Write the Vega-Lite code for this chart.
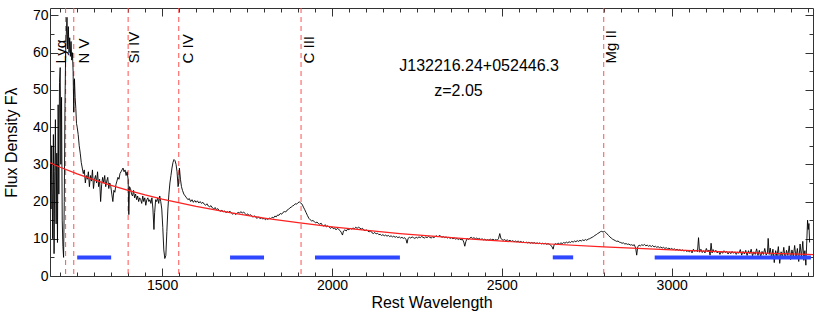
{
  "$schema": "https://vega.github.io/schema/vega-lite/v6.json",
  "width": 763,
  "height": 268,
  "autosize": "none",
  "padding": {"left": 50, "top": 8, "right": 17, "bottom": 45},
  "config": {
    "font": "Liberation Sans",
    "view": {"stroke": "#333333", "strokeWidth": 1}
  },
  "datasets": {
    "spec": [
      {"w":1171,"f":30},{"w":1173,"f":18},{"w":1175,"f":35},{"w":1176,"f":26},{"w":1178,"f":10},{"w":1180,"f":38},{"w":1182,"f":6},{"w":1184,"f":28},{"w":1186,"f":42},{"w":1188,"f":14},{"w":1190,"f":33},{"w":1192,"f":9},{"w":1194,"f":46},{"w":1196,"f":22},{"w":1198,"f":52},{"w":1200,"f":56},{"w":1202,"f":30},{"w":1204,"f":48},{"w":1206,"f":15},{"w":1208,"f":8},{"w":1210,"f":5},{"w":1212,"f":20},{"w":1214,"f":45},{"w":1216,"f":60},{"w":1218,"f":65},{"w":1220,"f":69.5},{"w":1222,"f":61},{"w":1224,"f":67},{"w":1226,"f":60},{"w":1228,"f":64},{"w":1230,"f":59},{"w":1232,"f":63},{"w":1234,"f":58},{"w":1236,"f":60},{"w":1238,"f":55},{"w":1240,"f":44},{"w":1242,"f":53},{"w":1244,"f":48},{"w":1246,"f":45},{"w":1248,"f":41},{"w":1250,"f":40},{"w":1253,"f":38},{"w":1256,"f":35},{"w":1259,"f":33},{"w":1262,"f":30.5},{"w":1265,"f":29},{"w":1268,"f":27.5},{"w":1271,"f":28.5},{"w":1274,"f":25},{"w":1277,"f":27},{"w":1280,"f":26},{"w":1283,"f":28},{"w":1286,"f":24},{"w":1289,"f":27},{"w":1292,"f":25.5},{"w":1295,"f":28.5},{"w":1298,"f":23.5},{"w":1301,"f":26},{"w":1304,"f":27},{"w":1307,"f":25},{"w":1310,"f":28},{"w":1313,"f":24},{"w":1316,"f":26},{"w":1319,"f":20},{"w":1322,"f":24.5},{"w":1325,"f":26.5},{"w":1328,"f":25},{"w":1331,"f":27},{"w":1334,"f":24},{"w":1337,"f":25.5},{"w":1340,"f":26.5},{"w":1343,"f":23.5},{"w":1346,"f":25},{"w":1349,"f":24},{"w":1352,"f":22},{"w":1355,"f":20},{"w":1358,"f":23},{"w":1361,"f":22.5},{"w":1364,"f":24.5},{"w":1367,"f":25.5},{"w":1370,"f":26.5},{"w":1373,"f":26},{"w":1376,"f":27.5},{"w":1379,"f":28},{"w":1382,"f":28.5},{"w":1385,"f":29},{"w":1388,"f":28},{"w":1391,"f":28.5},{"w":1394,"f":27},{"w":1397,"f":28},{"w":1400,"f":26},{"w":1402,"f":16.5},{"w":1404,"f":24},{"w":1407,"f":23.5},{"w":1410,"f":22},{"w":1413,"f":21.5},{"w":1416,"f":23},{"w":1419,"f":21},{"w":1422,"f":22},{"w":1425,"f":20.5},{"w":1428,"f":21.5},{"w":1431,"f":20},{"w":1434,"f":21},{"w":1437,"f":20.5},{"w":1440,"f":19.5},{"w":1443,"f":21.5},{"w":1446,"f":20},{"w":1449,"f":21},{"w":1452,"f":19},{"w":1455,"f":20.5},{"w":1458,"f":21},{"w":1461,"f":20},{"w":1464,"f":20.5},{"w":1467,"f":19.5},{"w":1470,"f":21},{"w":1473,"f":18},{"w":1476,"f":12.5},{"w":1478,"f":17},{"w":1481,"f":20.5},{"w":1484,"f":20},{"w":1487,"f":21},{"w":1490,"f":19.5},{"w":1493,"f":21.5},{"w":1496,"f":20},{"w":1499,"f":18},{"w":1502,"f":13},{"w":1505,"f":7},{"w":1508,"f":4.7},{"w":1511,"f":5.5},{"w":1514,"f":12},{"w":1517,"f":18},{"w":1520,"f":22},{"w":1523,"f":25},{"w":1526,"f":27},{"w":1529,"f":29},{"w":1532,"f":30.5},{"w":1535,"f":31.3},{"w":1538,"f":31},{"w":1541,"f":30},{"w":1544,"f":28},{"w":1547,"f":24},{"w":1549,"f":25},{"w":1551,"f":29},{"w":1554,"f":26},{"w":1557,"f":24},{"w":1560,"f":23},{"w":1564,"f":22},{"w":1568,"f":21.5},{"w":1572,"f":21},{"w":1576,"f":20.5},{"w":1580,"f":20.8},{"w":1584,"f":20},{"w":1588,"f":20.5},{"w":1592,"f":19.8},{"w":1596,"f":20.3},{"w":1600,"f":19.8},{"w":1604,"f":20.2},{"w":1608,"f":19.6},{"w":1612,"f":20},{"w":1616,"f":19.5},{"w":1620,"f":19.8},{"w":1624,"f":19.3},{"w":1628,"f":19},{"w":1632,"f":19.4},{"w":1636,"f":18.8},{"w":1640,"f":18.6},{"w":1644,"f":18.9},{"w":1648,"f":18.3},{"w":1652,"f":18},{"w":1656,"f":18.4},{"w":1660,"f":17.8},{"w":1664,"f":18.1},{"w":1668,"f":17.6},{"w":1672,"f":17.4},{"w":1676,"f":17.7},{"w":1680,"f":17.2},{"w":1684,"f":17.5},{"w":1688,"f":17},{"w":1692,"f":17.3},{"w":1696,"f":17.1},{"w":1700,"f":17.4},{"w":1704,"f":16.9},{"w":1708,"f":16.6},{"w":1712,"f":16.9},{"w":1716,"f":16.5},{"w":1720,"f":16.8},{"w":1724,"f":17.1},{"w":1728,"f":16.9},{"w":1732,"f":17.3},{"w":1736,"f":16.9},{"w":1740,"f":17.2},{"w":1744,"f":16.8},{"w":1748,"f":16.4},{"w":1752,"f":16.7},{"w":1756,"f":16.2},{"w":1760,"f":16.5},{"w":1764,"f":16.1},{"w":1768,"f":15.8},{"w":1772,"f":16.2},{"w":1776,"f":15.7},{"w":1780,"f":15.5},{"w":1784,"f":15.9},{"w":1788,"f":15.4},{"w":1792,"f":15.7},{"w":1796,"f":15.3},{"w":1800,"f":15.5},{"w":1804,"f":15.1},{"w":1808,"f":15.4},{"w":1812,"f":15.2},{"w":1816,"f":15.6},{"w":1820,"f":15.4},{"w":1824,"f":15.8},{"w":1828,"f":15.6},{"w":1832,"f":16.1},{"w":1836,"f":15.9},{"w":1840,"f":16.4},{"w":1844,"f":16.3},{"w":1848,"f":16.8},{"w":1852,"f":16.6},{"w":1856,"f":17.1},{"w":1860,"f":17.3},{"w":1864,"f":17.2},{"w":1868,"f":17.7},{"w":1872,"f":17.9},{"w":1876,"f":18.3},{"w":1880,"f":18.5},{"w":1884,"f":18.8},{"w":1888,"f":19},{"w":1892,"f":19.4},{"w":1896,"f":19.3},{"w":1900,"f":19.7},{"w":1904,"f":19.9},{"w":1908,"f":19.6},{"w":1912,"f":19.3},{"w":1916,"f":18.5},{"w":1920,"f":17.8},{"w":1924,"f":17},{"w":1928,"f":16.2},{"w":1932,"f":15.5},{"w":1936,"f":15.1},{"w":1940,"f":14.8},{"w":1944,"f":14.9},{"w":1948,"f":14.6},{"w":1952,"f":14.3},{"w":1956,"f":14.5},{"w":1960,"f":14.1},{"w":1964,"f":13.9},{"w":1968,"f":14.2},{"w":1972,"f":13.6},{"w":1976,"f":13.4},{"w":1980,"f":13.8},{"w":1984,"f":13.2},{"w":1988,"f":13.5},{"w":1992,"f":13.1},{"w":1996,"f":12.8},{"w":2000,"f":13.2},{"w":2004,"f":12.7},{"w":2008,"f":12.9},{"w":2012,"f":12.4},{"w":2016,"f":12.8},{"w":2020,"f":12.5},{"w":2024,"f":12.2},{"w":2028,"f":11.6},{"w":2031,"f":11},{"w":2034,"f":12.1},{"w":2038,"f":12.4},{"w":2042,"f":12.1},{"w":2046,"f":12.6},{"w":2050,"f":12.4},{"w":2054,"f":12.8},{"w":2058,"f":12.6},{"w":2062,"f":12.9},{"w":2066,"f":12.7},{"w":2070,"f":13.1},{"w":2074,"f":12.8},{"w":2078,"f":13.1},{"w":2082,"f":12.9},{"w":2086,"f":12.6},{"w":2090,"f":12.8},{"w":2094,"f":12.3},{"w":2098,"f":12.2},{"w":2102,"f":12.4},{"w":2106,"f":12},{"w":2110,"f":11.9},{"w":2114,"f":12.1},{"w":2118,"f":11.6},{"w":2122,"f":11.4},{"w":2126,"f":11.7},{"w":2130,"f":11.3},{"w":2134,"f":11.5},{"w":2138,"f":11.1},{"w":2142,"f":11.2},{"w":2146,"f":10.9},{"w":2150,"f":11.1},{"w":2154,"f":10.8},{"w":2158,"f":11},{"w":2162,"f":10.7},{"w":2166,"f":10.9},{"w":2170,"f":10.6},{"w":2174,"f":10.8},{"w":2178,"f":10.5},{"w":2182,"f":10.7},{"w":2186,"f":10.4},{"w":2190,"f":10.6},{"w":2194,"f":10.3},{"w":2198,"f":10.5},{"w":2202,"f":10.2},{"w":2206,"f":10.4},{"w":2210,"f":10.1},{"w":2214,"f":10.3},{"w":2218,"f":9.8},{"w":2221,"f":8.8},{"w":2224,"f":10.1},{"w":2228,"f":10.4},{"w":2232,"f":10.2},{"w":2236,"f":10.5},{"w":2240,"f":10.3},{"w":2244,"f":10.1},{"w":2248,"f":10.4},{"w":2252,"f":10.2},{"w":2256,"f":10.5},{"w":2260,"f":10.3},{"w":2264,"f":10.6},{"w":2268,"f":10.4},{"w":2272,"f":10.2},{"w":2276,"f":10.5},{"w":2280,"f":10.3},{"w":2284,"f":10.6},{"w":2288,"f":10.4},{"w":2292,"f":10.2},{"w":2296,"f":10.5},{"w":2300,"f":10.3},{"w":2304,"f":10.6},{"w":2308,"f":10.8},{"w":2312,"f":10.5},{"w":2316,"f":10.9},{"w":2320,"f":10.7},{"w":2324,"f":10.4},{"w":2328,"f":10.6},{"w":2332,"f":10.3},{"w":2336,"f":10.5},{"w":2340,"f":10.2},{"w":2344,"f":10.4},{"w":2348,"f":10.1},{"w":2352,"f":10.3},{"w":2356,"f":10},{"w":2360,"f":10.2},{"w":2364,"f":9.9},{"w":2368,"f":10.1},{"w":2372,"f":9.8},{"w":2376,"f":10},{"w":2380,"f":9.7},{"w":2384,"f":9.9},{"w":2388,"f":9.1},{"w":2391,"f":8},{"w":2394,"f":9.2},{"w":2398,"f":10.1},{"w":2402,"f":9.8},{"w":2406,"f":10.2},{"w":2410,"f":10.4},{"w":2414,"f":10.1},{"w":2418,"f":10.3},{"w":2422,"f":10},{"w":2426,"f":10.2},{"w":2430,"f":9.9},{"w":2434,"f":10.1},{"w":2438,"f":9.8},{"w":2442,"f":10},{"w":2446,"f":9.7},{"w":2450,"f":9.9},{"w":2454,"f":9.6},{"w":2458,"f":9.8},{"w":2462,"f":9.6},{"w":2466,"f":9.9},{"w":2470,"f":9.7},{"w":2474,"f":9.9},{"w":2478,"f":9.6},{"w":2482,"f":9.8},{"w":2486,"f":9.6},{"w":2490,"f":10},{"w":2494,"f":11.4},{"w":2497,"f":10.2},{"w":2500,"f":9.8},{"w":2504,"f":9.6},{"w":2508,"f":9.8},{"w":2512,"f":9.5},{"w":2516,"f":9.7},{"w":2520,"f":9.4},{"w":2524,"f":9.6},{"w":2528,"f":9.3},{"w":2532,"f":9.5},{"w":2536,"f":9.2},{"w":2540,"f":9.4},{"w":2544,"f":9.2},{"w":2548,"f":9.4},{"w":2552,"f":9.1},{"w":2556,"f":9.3},{"w":2560,"f":9},{"w":2564,"f":9.2},{"w":2568,"f":8.9},{"w":2572,"f":9.1},{"w":2576,"f":8.9},{"w":2580,"f":9.1},{"w":2584,"f":8.8},{"w":2588,"f":9},{"w":2592,"f":8.8},{"w":2596,"f":9},{"w":2600,"f":8.7},{"w":2604,"f":8.9},{"w":2608,"f":8.7},{"w":2612,"f":8.9},{"w":2616,"f":8.6},{"w":2620,"f":8.8},{"w":2624,"f":8.6},{"w":2628,"f":8.8},{"w":2632,"f":8.5},{"w":2636,"f":8.7},{"w":2640,"f":8.5},{"w":2644,"f":8.3},{"w":2648,"f":7.8},{"w":2651,"f":7.2},{"w":2654,"f":8.4},{"w":2658,"f":8.7},{"w":2662,"f":8.5},{"w":2666,"f":8.8},{"w":2670,"f":8.6},{"w":2674,"f":8.9},{"w":2678,"f":8.7},{"w":2682,"f":9},{"w":2686,"f":8.8},{"w":2690,"f":9.1},{"w":2694,"f":8.9},{"w":2698,"f":9.2},{"w":2702,"f":9},{"w":2706,"f":9.3},{"w":2710,"f":9.1},{"w":2714,"f":9.4},{"w":2718,"f":9.2},{"w":2722,"f":9.5},{"w":2726,"f":9.3},{"w":2730,"f":9.6},{"w":2734,"f":9.4},{"w":2738,"f":9.7},{"w":2742,"f":9.5},{"w":2746,"f":9.8},{"w":2750,"f":9.6},{"w":2754,"f":9.9},{"w":2758,"f":10},{"w":2762,"f":10.2},{"w":2766,"f":10.4},{"w":2770,"f":10.6},{"w":2774,"f":10.9},{"w":2778,"f":11.1},{"w":2782,"f":11.4},{"w":2786,"f":11.6},{"w":2790,"f":11.9},{"w":2794,"f":12},{"w":2798,"f":11.8},{"w":2802,"f":12},{"w":2806,"f":11.7},{"w":2810,"f":11.3},{"w":2814,"f":10.9},{"w":2818,"f":10.5},{"w":2822,"f":10.2},{"w":2826,"f":9.9},{"w":2830,"f":9.7},{"w":2834,"f":9.5},{"w":2838,"f":9.3},{"w":2842,"f":9.4},{"w":2846,"f":9.1},{"w":2850,"f":9},{"w":2854,"f":8.8},{"w":2858,"f":8.9},{"w":2862,"f":8.6},{"w":2866,"f":8.7},{"w":2870,"f":8.5},{"w":2874,"f":8.6},{"w":2878,"f":8.3},{"w":2882,"f":8.4},{"w":2886,"f":8.2},{"w":2890,"f":8.4},{"w":2894,"f":7.5},{"w":2897,"f":5.6},{"w":2900,"f":7.8},{"w":2904,"f":8.3},{"w":2908,"f":8.1},{"w":2912,"f":8.4},{"w":2916,"f":8.2},{"w":2920,"f":8.5},{"w":2924,"f":8.1},{"w":2928,"f":8.3},{"w":2932,"f":8},{"w":2936,"f":8.2},{"w":2940,"f":7.9},{"w":2944,"f":8.2},{"w":2948,"f":7.8},{"w":2952,"f":8},{"w":2956,"f":7.7},{"w":2960,"f":7.9},{"w":2964,"f":7.6},{"w":2968,"f":7.8},{"w":2972,"f":7.5},{"w":2976,"f":7.7},{"w":2980,"f":7.4},{"w":2984,"f":7.6},{"w":2988,"f":7.3},{"w":2992,"f":7.5},{"w":2996,"f":7.2},{"w":3000,"f":7.4},{"w":3004,"f":7.1},{"w":3008,"f":7.3},{"w":3012,"f":7},{"w":3016,"f":7.2},{"w":3020,"f":6.9},{"w":3024,"f":7.1},{"w":3028,"f":6.8},{"w":3032,"f":7},{"w":3036,"f":6.7},{"w":3040,"f":6.9},{"w":3044,"f":6.6},{"w":3048,"f":6.8},{"w":3052,"f":6.5},{"w":3056,"f":6.9},{"w":3060,"f":6.2},{"w":3064,"f":7.2},{"w":3068,"f":6.6},{"w":3072,"f":7},{"w":3076,"f":6.5},{"w":3079,"f":10.3},{"w":3082,"f":6.4},{"w":3086,"f":7.2},{"w":3090,"f":6.3},{"w":3094,"f":6.8},{"w":3098,"f":6.2},{"w":3102,"f":7.4},{"w":3106,"f":6.5},{"w":3110,"f":7},{"w":3113,"f":5.6},{"w":3116,"f":8.8},{"w":3119,"f":6.2},{"w":3122,"f":7.1},{"w":3126,"f":6.4},{"w":3130,"f":6.9},{"w":3134,"f":6.2},{"w":3138,"f":6.7},{"w":3142,"f":5.8},{"w":3146,"f":6.6},{"w":3150,"f":6.1},{"w":3154,"f":6.8},{"w":3158,"f":6.3},{"w":3162,"f":6.6},{"w":3166,"f":5.9},{"w":3170,"f":6.5},{"w":3174,"f":6},{"w":3178,"f":6.6},{"w":3182,"f":6.1},{"w":3186,"f":6.5},{"w":3190,"f":5.8},{"w":3194,"f":6.4},{"w":3198,"f":6.1},{"w":3202,"f":7.1},{"w":3206,"f":5.6},{"w":3210,"f":6.6},{"w":3214,"f":5.9},{"w":3218,"f":6.9},{"w":3222,"f":5.5},{"w":3226,"f":6.8},{"w":3230,"f":6},{"w":3234,"f":7.2},{"w":3238,"f":5.4},{"w":3242,"f":6.5},{"w":3246,"f":5.8},{"w":3250,"f":7.3},{"w":3254,"f":5.5},{"w":3258,"f":6.9},{"w":3262,"f":5.2},{"w":3266,"f":6.6},{"w":3270,"f":5.8},{"w":3274,"f":7.4},{"w":3278,"f":5.6},{"w":3282,"f":6.2},{"w":3284,"f":10.1},{"w":3287,"f":5.8},{"w":3290,"f":7.5},{"w":3294,"f":4.9},{"w":3298,"f":7.2},{"w":3302,"f":3.6},{"w":3306,"f":6.8},{"w":3310,"f":5.3},{"w":3314,"f":7.9},{"w":3318,"f":3.4},{"w":3322,"f":6.5},{"w":3326,"f":5.1},{"w":3330,"f":7.7},{"w":3334,"f":4.6},{"w":3338,"f":6.9},{"w":3342,"f":5.5},{"w":3346,"f":8.1},{"w":3350,"f":4.4},{"w":3354,"f":7},{"w":3358,"f":5.2},{"w":3362,"f":8.2},{"w":3366,"f":4.8},{"w":3370,"f":7.4},{"w":3374,"f":3.9},{"w":3378,"f":8.6},{"w":3382,"f":5},{"w":3386,"f":9.3},{"w":3389,"f":4.2},{"w":3392,"f":6.8},{"w":3395,"f":2.9},{"w":3398,"f":10},{"w":3400,"f":15},{"w":3402,"f":12.5},{"w":3404,"f":14.1},{"w":3406,"f":9}
    ],
    "cont": [
      {"w":1170,"f":30.4},{"w":1200,"f":29.23},{"w":1250,"f":27.43},{"w":1300,"f":25.81},{"w":1350,"f":24.34},{"w":1400,"f":23.01},{"w":1450,"f":21.78},{"w":1500,"f":20.67},{"w":1600,"f":18.7},{"w":1700,"f":17.02},{"w":1800,"f":15.57},{"w":1900,"f":14.32},{"w":2000,"f":13.22},{"w":2200,"f":11.4},{"w":2400,"f":9.96},{"w":2600,"f":8.8},{"w":2800,"f":7.84},{"w":3000,"f":7.04},{"w":3200,"f":6.37},{"w":3400,"f":5.8},{"w":3416,"f":5.76}
    ],
    "lines": [
      {"name":"Lyα","w":1216,"lw":1181,"lf":57.1},
      {"name":"N V","w":1240,"lw":1249,"lf":57.1},
      {"name":"Si IV","w":1400,"lw":1398,"lf":57.1},
      {"name":"C IV","w":1549,"lw":1555,"lf":57.1},
      {"name":"C III","w":1909,"lw":1913,"lf":57.1},
      {"name":"Mg II","w":2800,"lw":2802,"lf":57.1}
    ],
    "bands": [
      {"w1":1250,"w2":1350,"f":5},
      {"w1":1700,"w2":1800,"f":5},
      {"w1":1950,"w2":2200,"f":5},
      {"w1":2650,"w2":2710,"f":5},
      {"w1":2950,"w2":3410,"f":5}
    ],
    "notes": [
      {"text":"J132216.24+052446.3","w":2198,"f":55.1},
      {"text":"z=2.05","w":2301,"f":48.3}
    ]
  },
  "layer": [
    {
      "data": {"name": "lines"},
      "mark": {"type": "rule", "color": "#ff5050", "strokeWidth": 1, "strokeDash": [5, 4]},
      "encoding": {
        "x": {"field": "w", "type": "quantitative", "scale": {"domain": [1170, 3416], "nice": false, "zero": false}, "axis": null}
      }
    },
    {
      "data": {"name": "spec"},
      "mark": {"type": "line", "color": "black", "strokeWidth": 0.9, "clip": true},
      "encoding": {
        "x": {"field": "w", "type": "quantitative", "scale": {"domain": [1170, 3416], "nice": false, "zero": false},
          "axis": {
            "orient": "bottom",
            "values": [1200,1250,1300,1350,1400,1450,1500,1550,1600,1650,1700,1750,1800,1850,1900,1950,2000,2050,2100,2150,2200,2250,2300,2350,2400,2450,2500,2550,2600,2650,2700,2750,2800,2850,2900,2950,3000,3050,3100,3150,3200,3250,3300,3350,3400],
            "labelExpr": "datum.value % 500 === 0 ? format(datum.value, 'd') : ''",
            "tickSize": {"condition": {"test": "datum.value % 500 === 0", "value": -8}, "value": -4},
            "tickColor": "#333333",
            "domain": false,
            "grid": false,
            "labelFontSize": 14,
            "labelColor": "black",
            "labelPadding": 10,
            "labelOverlap": false,
            "title": "Rest Wavelength",
            "titleFontSize": 16,
            "titleFontWeight": "normal",
            "titleColor": "black",
            "titleBaseline": "top",
            "titleY": 18
          }
        },
        "y": {"field": "f", "type": "quantitative", "scale": {"domain": [0, 72], "nice": false, "zero": false},
          "axis": {
            "orient": "left",
            "values": [0,5,10,15,20,25,30,35,40,45,50,55,60,65,70],
            "labelExpr": "datum.value % 10 === 0 ? format(datum.value, 'd') : ''",
            "tickSize": {"condition": {"test": "datum.value % 10 === 0", "value": -8}, "value": -4},
            "tickColor": "#333333",
            "domain": false,
            "grid": false,
            "labelFontSize": 14,
            "labelColor": "black",
            "labelPadding": 10,
            "labelOverlap": false,
            "title": "Flux Density  Fλ",
            "titleFontSize": 16,
            "titleFontWeight": "normal",
            "titleColor": "black",
            "titleBaseline": "top",
            "titleX": -47,
            "titleY": 134
          }
        }
      }
    },
    {
      "data": {"name": "cont"},
      "mark": {"type": "line", "color": "#ff2020", "strokeWidth": 1.2, "clip": true},
      "encoding": {
        "x": {"field": "w", "type": "quantitative", "scale": {"domain": [1170, 3416], "nice": false, "zero": false},
          "axis": {
            "orient": "top",
            "values": [1200,1250,1300,1350,1400,1450,1500,1550,1600,1650,1700,1750,1800,1850,1900,1950,2000,2050,2100,2150,2200,2250,2300,2350,2400,2450,2500,2550,2600,2650,2700,2750,2800,2850,2900,2950,3000,3050,3100,3150,3200,3250,3300,3350,3400],
            "labels": false,
            "tickSize": {"condition": {"test": "datum.value % 500 === 0", "value": -8}, "value": -4},
            "tickColor": "#333333",
            "domain": false,
            "grid": false,
            "title": null
          }
        },
        "y": {"field": "f", "type": "quantitative", "scale": {"domain": [0, 72], "nice": false, "zero": false},
          "axis": {
            "orient": "right",
            "values": [0,5,10,15,20,25,30,35,40,45,50,55,60,65,70],
            "labels": false,
            "tickSize": {"condition": {"test": "datum.value % 10 === 0", "value": -8}, "value": -4},
            "tickColor": "#333333",
            "domain": false,
            "grid": false,
            "title": null
          }
        }
      }
    },
    {
      "data": {"name": "bands"},
      "mark": {"type": "rule", "color": "#2f48ff", "strokeWidth": 4},
      "encoding": {
        "x": {"field": "w1", "type": "quantitative", "scale": {"domain": [1170, 3416], "nice": false, "zero": false}, "axis": null},
        "x2": {"field": "w2"},
        "y": {"field": "f", "type": "quantitative", "scale": {"domain": [0, 72], "nice": false, "zero": false}, "axis": null}
      }
    },
    {
      "data": {"name": "lines"},
      "mark": {"type": "text", "angle": 270, "align": "left", "baseline": "top", "fontSize": 15, "color": "black"},
      "encoding": {
        "x": {"field": "lw", "type": "quantitative", "scale": {"domain": [1170, 3416], "nice": false, "zero": false}, "axis": null},
        "y": {"field": "lf", "type": "quantitative", "scale": {"domain": [0, 72], "nice": false, "zero": false}, "axis": null},
        "text": {"field": "name"}
      }
    },
    {
      "data": {"name": "notes"},
      "mark": {"type": "text", "align": "left", "baseline": "alphabetic", "fontSize": 16, "color": "black"},
      "encoding": {
        "x": {"field": "w", "type": "quantitative", "scale": {"domain": [1170, 3416], "nice": false, "zero": false}, "axis": null},
        "y": {"field": "f", "type": "quantitative", "scale": {"domain": [0, 72], "nice": false, "zero": false}, "axis": null},
        "text": {"field": "text"}
      }
    }
  ],
  "resolve": {"axis": {"x": "independent", "y": "independent"}}
}
